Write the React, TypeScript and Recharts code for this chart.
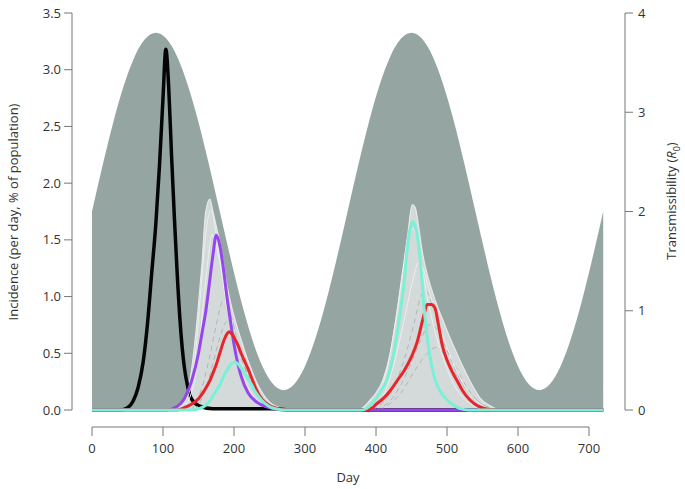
import { ComposedChart, Area, Line, XAxis, YAxis, ReferenceLine, Label } from 'recharts';

type Pt = [number, number];

// transmissibility R0 (right axis), read every 30 days
const r0Curve: Pt[] = [
  [0, 2.0], [30, 2.9], [60, 3.56], [90, 3.8], [120, 3.56], [150, 2.9], [180, 2.0], [210, 1.1],
  [240, 0.44], [270, 0.2], [300, 0.44], [330, 1.1], [360, 2.0], [390, 2.9], [420, 3.56], [450, 3.8],
  [480, 3.56], [510, 2.9], [540, 2.0], [570, 1.1], [600, 0.44], [630, 0.2], [660, 0.44], [690, 1.1], [720, 2.0],
];

// incidence curves (% of population per day)
const blackCurve: Pt[] = [
  [0, 0], [40, 0], [50, 0.02], [58, 0.08], [65, 0.2], [72, 0.42], [78, 0.75], [84, 1.2], [90, 1.65],
  [95, 2.15], [100, 2.75], [104, 3.18], [108, 2.85], [112, 2.25], [116, 1.7], [120, 1.2], [125, 0.7],
  [130, 0.38], [135, 0.2], [140, 0.1], [150, 0.04], [170, 0.01], [260, 0.01], [280, 0], [720, 0],
];

const purpleCurve: Pt[] = [
  [0, 0], [105, 0], [120, 0.03], [130, 0.1], [140, 0.25], [150, 0.5], [155, 0.68], [160, 0.86],
  [165, 1.1], [170, 1.35], [175, 1.54], [180, 1.45], [185, 1.25], [190, 1.0], [195, 0.78], [200, 0.58],
  [205, 0.42], [210, 0.3], [220, 0.15], [232, 0.07], [245, 0.03], [255, 0.015], [270, 0], [720, 0],
];

const redCurve: Pt[] = [
  [0, 0], [120, 0], [130, 0.02], [140, 0.05], [150, 0.1], [160, 0.19], [166, 0.26], [170, 0.32],
  [175, 0.4], [180, 0.5], [185, 0.6], [190, 0.67], [193, 0.69], [197, 0.67], [200, 0.64], [205, 0.58],
  [210, 0.5], [215, 0.43], [220, 0.36], [225, 0.28], [230, 0.2], [240, 0.09], [250, 0.04], [260, 0.015],
  [275, 0], [385, 0], [395, 0.02], [400, 0.05], [410, 0.1], [420, 0.17], [430, 0.26], [440, 0.35],
  [450, 0.47], [458, 0.6], [464, 0.75], [468, 0.85], [472, 0.93], [478, 0.93], [483, 0.9], [488, 0.75],
  [493, 0.58], [500, 0.44], [507, 0.34], [514, 0.26], [522, 0.17], [532, 0.09], [545, 0.03], [556, 0.01],
  [570, 0], [720, 0],
];

const cyanCurve: Pt[] = [
  [0, 0], [140, 0], [150, 0.01], [160, 0.04], [166, 0.08], [170, 0.12], [175, 0.17], [180, 0.22],
  [185, 0.29], [190, 0.35], [195, 0.4], [200, 0.42], [205, 0.41], [210, 0.37], [215, 0.32], [220, 0.27],
  [225, 0.22], [230, 0.16], [240, 0.08], [250, 0.03], [260, 0.01], [270, 0], [380, 0], [390, 0.03],
  [400, 0.1], [410, 0.2], [415, 0.26], [420, 0.36], [425, 0.5], [430, 0.68], [434, 0.86], [440, 1.15],
  [444, 1.42], [449, 1.62], [452, 1.66], [456, 1.6], [460, 1.45], [464, 1.2], [468, 0.88], [472, 0.65],
  [476, 0.47], [483, 0.27], [490, 0.17], [500, 0.09], [510, 0.04], [518, 0.015], [530, 0], [720, 0],
];

// upper envelope of the simulation ensemble
const ensembleTop: Pt[] = [
  [0, 0], [115, 0], [125, 0.04], [131, 0.09], [138, 0.26], [144, 0.55], [149, 0.86], [155, 1.3],
  [160, 1.74], [166, 1.86], [170, 1.76], [175, 1.62], [180, 1.48], [185, 1.3], [190, 1.1], [197, 0.9],
  [205, 0.72], [210, 0.62], [215, 0.52], [220, 0.43], [225, 0.35], [230, 0.27], [240, 0.15], [250, 0.07],
  [260, 0.03], [270, 0.01], [280, 0], [375, 0], [385, 0.04], [392, 0.09], [400, 0.15], [410, 0.27],
  [420, 0.5], [430, 0.88], [438, 1.22], [445, 1.56], [451, 1.81], [455, 1.79], [460, 1.62], [465, 1.4],
  [472, 1.2], [479, 1.05], [486, 0.92], [495, 0.78], [504, 0.64], [511, 0.54], [518, 0.44], [525, 0.35],
  [532, 0.26], [540, 0.17], [546, 0.11], [560, 0.04], [575, 0], [720, 0],
];

// a few individual runs of the ensemble
const lightRuns: Pt[][] = [
  [[120, 0], [135, 0.12], [145, 0.45], [152, 0.95], [158, 1.4], [163, 1.68], [168, 1.76], [173, 1.62],
    [178, 1.42], [185, 1.12], [192, 0.84], [200, 0.56], [210, 0.32], [225, 0.12], [245, 0.03], [265, 0]],
  [[125, 0], [140, 0.15], [150, 0.5], [157, 0.95], [163, 1.3], [169, 1.55], [173, 1.5], [180, 1.3],
    [188, 1.0], [196, 0.72], [205, 0.47], [218, 0.22], [235, 0.07], [260, 0]],
  [[380, 0], [400, 0.1], [415, 0.35], [428, 0.8], [438, 1.25], [446, 1.55], [452, 1.6], [458, 1.5],
    [465, 1.25], [472, 1.0], [482, 0.72], [495, 0.45], [510, 0.22], [530, 0.07], [550, 0]],
  [[390, 0], [410, 0.12], [425, 0.4], [440, 0.8], [452, 1.15], [460, 1.3], [466, 1.25], [475, 1.05],
    [486, 0.8], [500, 0.55], [515, 0.33], [530, 0.16], [550, 0.04], [565, 0]],
];

const darkRuns: Pt[][] = [
  [[140, 0], [155, 0.2], [165, 0.45], [175, 0.75], [183, 0.95], [188, 0.98], [195, 0.85], [205, 0.6],
    [215, 0.38], [230, 0.15], [250, 0.03], [265, 0]],
  [[145, 0], [160, 0.18], [172, 0.45], [182, 0.68], [190, 0.78], [198, 0.7], [208, 0.5], [220, 0.3],
    [235, 0.12], [255, 0.02], [270, 0]],
  [[395, 0], [420, 0.15], [440, 0.45], [455, 0.8], [463, 1.0], [470, 1.05], [478, 0.95], [490, 0.7],
    [505, 0.45], [520, 0.25], [540, 0.08], [560, 0]],
  [[400, 0], [425, 0.12], [445, 0.35], [462, 0.6], [475, 0.75], [485, 0.72], [498, 0.55], [512, 0.38],
    [528, 0.2], [545, 0.07], [565, 0]],
  [[405, 0], [435, 0.15], [455, 0.35], [472, 0.5], [485, 0.55], [497, 0.48], [512, 0.32], [530, 0.16],
    [550, 0.05], [570, 0]],
];

const dayTicks = [0, 100, 200, 300, 400, 500, 600, 700];
const incidenceTicks = [0, 0.5, 1, 1.5, 2, 2.5, 3, 3.5];
const r0Ticks = [0, 1, 2, 3, 4];

const pts = (arr: Pt[]) => arr.map(([day, v]) => ({ day, v }));

const FONT = "'Open Sans', 'DejaVu Sans', sans-serif";
const AXIS = '#777';
const TEXT = '#333';
const PLOT_BOTTOM = 410;

const XTick = (props: any) => {
  const { x, payload } = props;
  return (
    <g>
      <line x1={x} x2={x} y1={PLOT_BOTTOM + 17} y2={PLOT_BOTTOM + 26} stroke={AXIS} />
      <text x={x} y={PLOT_BOTTOM + 43} textAnchor="middle" fill={TEXT} fontSize={13} fontFamily={FONT}>
        {payload.value}
      </text>
    </g>
  );
};

export default function App() {
  return (
    <div style={{ position: 'absolute', left: 0, top: 0, background: '#fff' }}>
      <ComposedChart width={685} height={489} margin={{ top: 13, right: 0, bottom: 0, left: 0 }}>
        <XAxis
          type="number"
          dataKey="day"
          domain={[-28.17, 750.7]}
          ticks={dayTicks}
          interval={0}
          allowDataOverflow
          axisLine={false}
          tickLine={false}
          height={79}
          tick={<XTick />}
        >
          <Label
            content={() => (
              <text x={348} y={482} textAnchor="middle" fill={TEXT} fontSize={13} fontFamily={FONT}>
                Day
              </text>
            )}
          />
        </XAxis>
        <YAxis
          yAxisId="left"
          domain={[0, 3.5]}
          ticks={incidenceTicks}
          interval={0}
          width={72}
          tickSize={8}
          tickMargin={3}
          tickFormatter={(v: number) => v.toFixed(1)}
          axisLine={{ stroke: AXIS }}
          tickLine={{ stroke: AXIS }}
          tick={{ fill: TEXT, fontSize: 13, fontFamily: FONT }}
        >
          <Label
            content={() => (
              <text
                transform="translate(14,212) rotate(-90)"
                dy={4}
                textAnchor="middle"
                fill={TEXT}
                fontSize={13}
                fontFamily={FONT}
              >
                Incidence (per day, % of population)
              </text>
            )}
          />
        </YAxis>
        <YAxis
          yAxisId="right"
          orientation="right"
          domain={[0, 4]}
          ticks={r0Ticks}
          interval={0}
          width={60}
          tickSize={8}
          tickMargin={5}
          axisLine={{ stroke: AXIS }}
          tickLine={{ stroke: AXIS }}
          tick={{ fill: TEXT, fontSize: 13, fontFamily: FONT }}
        >
          <Label
            content={() => (
              <text
                transform="translate(672,201) rotate(-90)"
                dy={4}
                textAnchor="middle"
                fill={TEXT}
                fontSize={13}
                fontFamily={FONT}
              >
                Transmissibility (<tspan fontStyle="italic">R</tspan>
                <tspan fontSize={9} dy={4}>0</tspan>
                <tspan dy={-4}>)</tspan>
              </text>
            )}
          />
        </YAxis>

        <ReferenceLine
          yAxisId="left"
          segment={[{ x: 0, y: -0.15 }, { x: 700, y: -0.15 }]}
          stroke={AXIS}
          ifOverflow="visible"
        />

        <Area
          yAxisId="right"
          data={pts(r0Curve)}
          dataKey="v"
          type="natural"
          fill="#95a5a1"
          fillOpacity={1}
          stroke="none"
          isAnimationActive={false}
        />
        <Line yAxisId="left" data={pts(blackCurve)} dataKey="v" type="monotone" stroke="#050505"
          strokeWidth={3.5} dot={false} isAnimationActive={false} />
        <Area
          yAxisId="left"
          data={pts(ensembleTop)}
          dataKey="v"
          type="monotone"
          fill="#d4dad9"
          fillOpacity={1}
          stroke="#e6eaea"
          strokeWidth={1.2}
          isAnimationActive={false}
        />
        {darkRuns.map((r, i) => (
          <Line key={'d' + i} yAxisId="left" data={pts(r)} dataKey="v" type="monotone" stroke="#a3adab"
            strokeWidth={0.8} strokeDasharray="5 4" dot={false} isAnimationActive={false} />
        ))}
        {lightRuns.map((r, i) => (
          <Line key={'l' + i} yAxisId="left" data={pts(r)} dataKey="v" type="monotone" stroke="#eceff0"
            strokeWidth={1} dot={false} isAnimationActive={false} />
        ))}
        <Line yAxisId="left" data={pts(purpleCurve)} dataKey="v" type="monotone" stroke="#9646ec"
          strokeWidth={3} dot={false} isAnimationActive={false} />
        <Line yAxisId="left" data={pts(redCurve)} dataKey="v" type="monotone" stroke="#e8252a"
          strokeWidth={3} dot={false} isAnimationActive={false} />
        <Line yAxisId="left" data={pts(cyanCurve)} dataKey="v" type="monotone" stroke="#7af0d6"
          strokeWidth={3} dot={false} isAnimationActive={false} />
      </ComposedChart>
    </div>
  );
}
